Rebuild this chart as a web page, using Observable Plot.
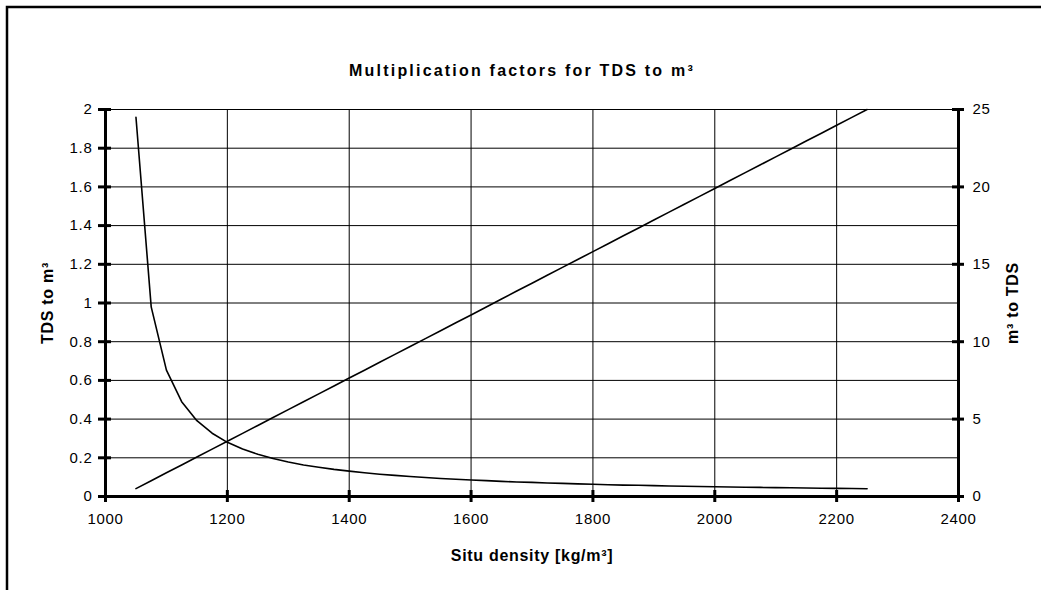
<!DOCTYPE html>
<html>
<head>
<meta charset="utf-8">
<script src="https://cdn.jsdelivr.net/npm/d3@7"></script>
<script src="https://cdn.jsdelivr.net/npm/@observablehq/plot@0.6"></script>
<style>
  html, body { margin: 0; padding: 0; background: #fff; }
</style>
</head>
<body>
<div id="chart"></div>
<script>
// Situ density [kg/m3]
const density = [1050,1075,1100,1125,1150,1175,1200,1225,1250,1275,1300,1325,1350,1375,1400,1425,1450,1475,1500,1525,1550,1575,1600,1625,1650,1675,1700,1725,1750,1775,1800,1825,1850,1875,1900,1925,1950,1975,2000,2025,2050,2075,2100,2125,2150,2175,2200,2225,2250];
// TDS to m3 (left axis)
const tdsToM3 = [1.96,0.98,0.653,0.49,0.392,0.327,0.28,0.245,0.218,0.196,0.178,0.163,0.151,0.14,0.131,0.1225,0.115,0.109,0.103,0.098,0.093,0.089,0.085,0.082,0.078,0.075,0.073,0.07,0.068,0.065,0.063,0.061,0.059,0.058,0.056,0.054,0.053,0.052,0.05,0.049,0.048,0.047,0.046,0.045,0.044,0.043,0.042,0.041,0.04];
// m3 to TDS (right axis)
const m3ToTDS = [0.51,1.02,1.53,2.04,2.55,3.06,3.57,4.08,4.59,5.10,5.61,6.12,6.63,7.14,7.65,8.16,8.67,9.18,9.69,10.20,10.71,11.22,11.73,12.24,12.76,13.27,13.78,14.29,14.80,15.31,15.82,16.33,16.84,17.35,17.86,18.37,18.88,19.39,19.90,20.41,20.92,21.43,21.94,22.45,22.96,23.47,23.98,24.49,25.00];

const xTicks = [1000,1200,1400,1600,1800,2000,2200,2400];
const yLeftTicks = [0,0.2,0.4,0.6,0.8,1,1.2,1.4,1.6,1.8,2];
const yRightTicks = [0,5,10,15,20,25];

const leftMax = 2, rightMax = 25;
const toLeft = v => v * leftMax / rightMax;

const data = density.map((d, i) => ({density: d, tds: tdsToM3[i], m3: m3ToTDS[i]}));

const font = "'Liberation Sans', Arial, sans-serif";
const titleText = "Multiplication factors for TDS to m³";

const plot = Plot.plot({
  width: 1041,
  height: 590,
  marginLeft: 105,
  marginRight: 83,
  marginTop: 109,
  marginBottom: 94,
  style: {fontFamily: font, fontSize: "15px", color: "#000", background: "#fff", letterSpacing: "0.7px"},
  x: {domain: [1000, 2400]},
  y: {domain: [0, 2]},
  marks: [
    // grid
    Plot.ruleX(xTicks.slice(1, -1), {stroke: "#000", strokeWidth: 1}),
    Plot.ruleY(yLeftTicks.slice(1), {stroke: "#000", strokeWidth: 1}),
    // axis lines
    Plot.ruleX([1000, 2400], {stroke: "#000", strokeWidth: 3}),
    Plot.ruleY([0], {stroke: "#000", strokeWidth: 3}),
    // crossing tick marks
    Plot.ruleY(yLeftTicks, {y: d => d, x1: 1000, x2: 1000, insetLeft: -7, insetRight: -6, stroke: "#000", strokeWidth: 3}),
    Plot.ruleY(yRightTicks, {y: d => toLeft(d), x1: 2400, x2: 2400, insetLeft: -6, insetRight: -6, stroke: "#000", strokeWidth: 3}),
    Plot.ruleX(xTicks, {x: d => d, y1: 0, y2: 0, insetTop: -6, insetBottom: -6, stroke: "#000", strokeWidth: 3}),
    // tick labels
    Plot.axisX({ticks: xTicks, tickSize: 0, tickPadding: 17, label: null, fontSize: 15, tickFormat: d => String(d)}),
    Plot.axisY({anchor: "left", ticks: yLeftTicks, tickSize: 0, tickPadding: 13, label: null, fontSize: 15, tickFormat: d => String(+d.toFixed(1))}),
    Plot.axisY({anchor: "right", ticks: yRightTicks.map(toLeft), tickSize: 0, tickPadding: 14, label: null, fontSize: 15, tickFormat: d => String(Math.round(d * rightMax / leftMax))}),
    // data lines
    Plot.line(data, {x: "density", y: "tds", stroke: "#000", strokeWidth: 1.6}),
    Plot.line(data, {x: "density", y: d => toLeft(d.m3), stroke: "#000", strokeWidth: 1.6}),
    // titles
    Plot.text([titleText], {frameAnchor: "top", dy: -39, dx: -10, textAnchor: "middle", lineAnchor: "middle", fontWeight: "bold", fontSize: 16}),
    Plot.text(["TDS to m³"], {frameAnchor: "left", dx: -58, rotate: -90, textAnchor: "middle", lineAnchor: "middle", fontWeight: "bold", fontSize: 16}),
    Plot.text(["m³ to TDS"], {frameAnchor: "right", dx: 54, rotate: -90, textAnchor: "middle", lineAnchor: "middle", fontWeight: "bold", fontSize: 16}),
    Plot.text(["Situ density [kg/m³]"], {frameAnchor: "bottom", dy: 59, textAnchor: "middle", lineAnchor: "middle", fontWeight: "bold", fontSize: 16})
  ]
});

// wider letter spacing on the title, as in the reference rendering
d3.select(plot).selectAll("text")
  .filter(function() { return this.textContent === titleText; })
  .style("letter-spacing", "2.2px");

// outer chart-area border
d3.select(plot).append("rect")
  .attr("x", 7).attr("y", 7).attr("width", 1200).attr("height", 800)
  .attr("fill", "none").attr("stroke", "#000").attr("stroke-width", 2.5);

document.getElementById("chart").appendChild(plot);
</script>
</body>
</html>
